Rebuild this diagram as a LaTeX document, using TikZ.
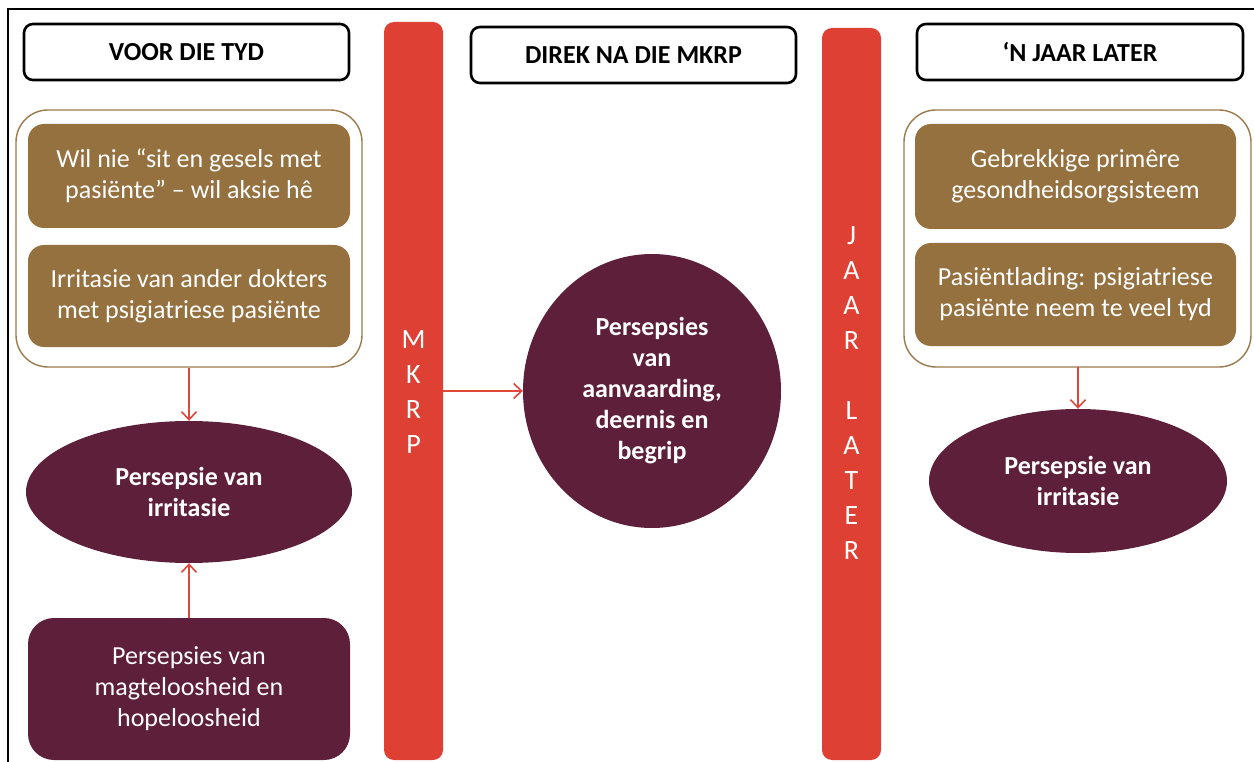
\documentclass[tikz,border=0pt]{standalone}
\usepackage{fontspec}
\setmainfont{Carlito}
\usetikzlibrary{arrows.meta,shapes.geometric}
\definecolor{barred}{HTML}{DE4034}
\definecolor{brownbox}{HTML}{957140}
\definecolor{brownline}{HTML}{9B7A4E}
\definecolor{maroon}{HTML}{5E1F3B}
\definecolor{arrowred}{HTML}{E0463A}
\begin{document}
\begin{tikzpicture}[x=1pt,y=-1pt,
  header/.style={draw=black,line width=2.6pt,rounded corners=9pt,fill=white,inner sep=0pt,
    font=\fontsize{26}{30}\selectfont\bfseries},
  redbar/.style={fill=barred,rounded corners=10pt,draw=none},
  group/.style={draw=brownline,line width=1.4pt,rounded corners=32pt,fill=white},
  brownbox/.style={fill=brownbox,rounded corners=16pt,draw=none,text=white,align=center,
    font=\fontsize{26}{31}\selectfont},
  maroonshape/.style={fill=maroon,draw=none,text=white,align=center},
  bartext/.style={text=white,align=center,font=\fontsize{28}{35}\selectfont},
  conn/.style={draw=arrowred,line width=1.6pt,-{Straight Barb[length=8pt,width=15pt,line width=1.6pt]}}]
\useasboundingbox (0,0) rectangle (1254,762);
% frame
\draw[line width=2pt] (8,762) -- (8,9) -- (1254,9);
% headers
\node[header,minimum width=325pt,minimum height=56pt] (h1) at (186.5,52) {VOOR DIE TYD};
\node[header,minimum width=325pt,minimum height=56pt] (h2) at (633.5,55) {DIREK NA DIE MKRP};
\node[header,minimum width=326pt,minimum height=56pt] (h3) at (1080,52) {‘N JAAR LATER};
% red bars
\path[redbar] (384,22) rectangle (443,760);
\node[minimum width=59pt,minimum height=738pt,inner sep=0pt] (bar1) at (413.5,391) {};
\path[redbar] (822,28) rectangle (881,760);
\node[minimum width=59pt,minimum height=732pt,inner sep=0pt] (bar2) at (851.5,394) {};
\node[bartext] (t1) at (413.5,392) {M\\K\\R\\P};
\node[bartext] (t2) at (851.5,393) {J\\A\\A\\R\\~\\L\\A\\T\\E\\R};
% left group
\node[group,minimum width=346pt,minimum height=257pt,inner sep=0pt] (g1) at (189,238.5) {};
\node[brownbox,minimum width=322pt,minimum height=104pt,inner sep=0pt] (b1) at (189,176) {Wil nie “sit en gesels met\\pasiënte” – wil aksie hê};
\node[brownbox,minimum width=322pt,minimum height=102pt,inner sep=0pt] (b2) at (189,296) {Irritasie van ander dokters\\met psigiatriese pasiënte};
% right group
\node[group,minimum width=347pt,minimum height=257pt,inner sep=0pt] (g2) at (1077.5,238.5) {};
\node[brownbox,minimum width=321pt,minimum height=105pt,inner sep=0pt] (b3) at (1075.5,176.5) {Gebrekkige primêre\\gesondheidsorgsisteem};
\node[brownbox,minimum width=321pt,minimum height=103pt,inner sep=0pt] (b4) at (1075.5,294.5) {Pasiëntlading: psigiatriese\\pasiënte neem te veel tyd};
% ellipses
\node[maroonshape,ellipse,minimum width=326pt,minimum height=142pt,inner sep=0pt,
  font=\fontsize{26}{31}\selectfont\bfseries] (e1) at (189,492) {Persepsie van\\irritasie};
\node[maroonshape,ellipse,minimum width=258pt,minimum height=274pt,inner sep=0pt,
  font=\fontsize{26}{31}\selectfont\bfseries] (e2) at (652,391) {Persepsies\\van\\aanvaarding,\\deernis en\\begrip};
\node[maroonshape,ellipse,minimum width=298pt,minimum height=144pt,inner sep=0pt,
  font=\fontsize{26}{31}\selectfont\bfseries] (e3) at (1078,481) {Persepsie van\\irritasie};
% bottom left box
\node[maroonshape,rounded corners=26pt,minimum width=322pt,minimum height=142pt,inner sep=0pt,
  font=\fontsize{26}{31}\selectfont] (b5) at (189,689) {Persepsies van\\magteloosheid en\\hopeloosheid};
% connectors
\draw[conn] (g1.south) -- (e1.north);
\draw[conn] (b5.north) -- (e1.south);
\draw[conn] (bar1.east) -- (e2.west);
\draw[conn] (1078,367) -- (e3.north);
\end{tikzpicture}
\end{document}
